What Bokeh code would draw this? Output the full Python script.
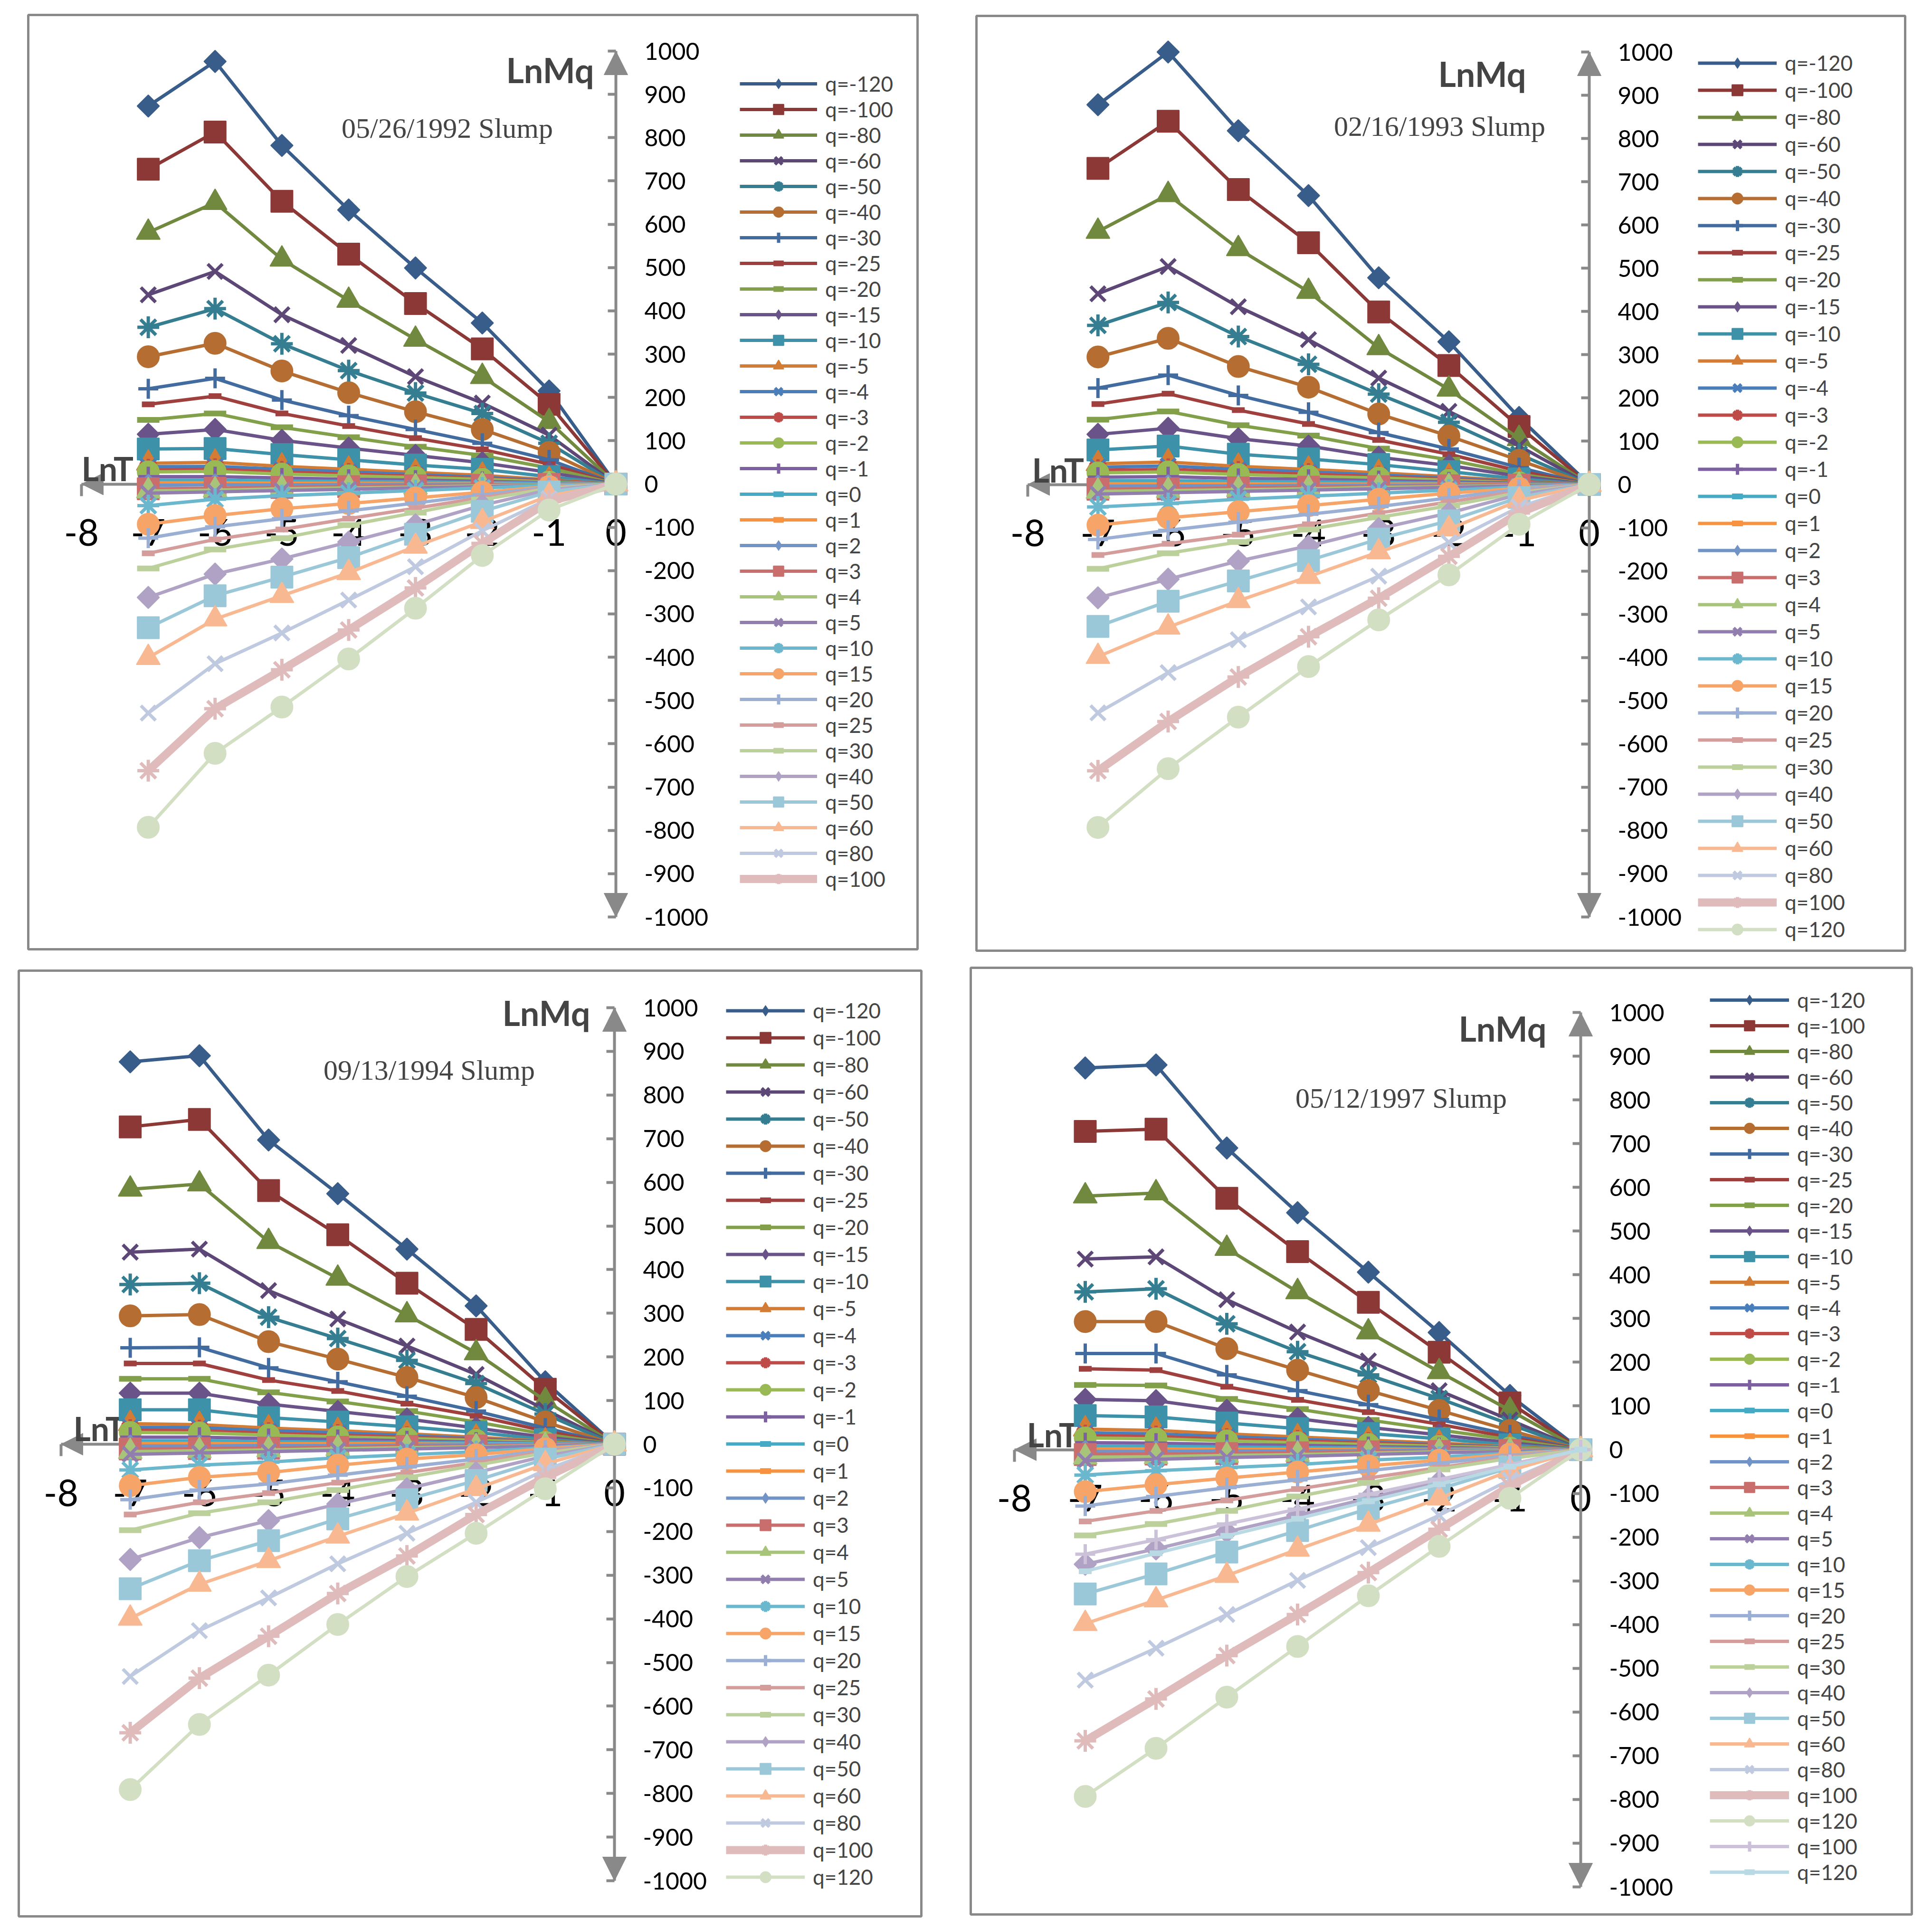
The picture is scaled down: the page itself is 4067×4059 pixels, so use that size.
import math

from bokeh.plotting import figure
from bokeh.layouts import row, column
from bokeh.models import Arrow, NormalHead, Label, Legend, LegendItem, Spacer, FixedTicker, ColumnDataSource
from bokeh.embed import file_html
from bokeh.resources import INLINE

# ---- data -------------------------------------------------------------
lnT = [-7, -6, -5, -4, -3, -2, -1, 0]
x_ticks = [-8, -7, -6, -5, -4, -3, -2, -1, 0]
y_ticks = list(range(-1000, 1001, 100))

q_values = [-120, -100, -80, -60, -50, -40, -30, -25, -20, -15, -10, -5, -4, -3, -2, -1,
            0, 1, 2, 3, 4, 5, 10, 15, 20, 25, 30, 40, 50, 60, 80, 100, 120]

# LnMq at lnT = -7 ... 0, one row per q
slump_1992 = [
    [873, 976, 782, 633, 499, 372, 215, 0],
    [727, 813, 653, 531, 417, 312, 184, 0],
    [581, 650, 519, 424, 334, 248, 144, 0],
    [437, 491, 391, 320, 248, 187, 113, 0],
    [362, 405, 324, 262, 210, 163, 94, 0],
    [294, 325, 261, 211, 167, 126, 73, 0],
    [220, 244, 194, 158, 126, 94, 56, 0],
    [184, 203, 163, 134, 106, 80, 46, 0],
    [148, 163, 131, 108, 86, 66, 37, 0],
    [115, 126, 101, 83, 66, 49, 27, 0],
    [81, 82, 68, 56, 44, 34, 17, 0],
    [48, 50, 41, 34, 27, 20, 10, 0],
    [40, 41, 34, 28, 22, 16, 8, 0],
    [33, 34, 28, 23, 18, 13, 7, 0],
    [28, 29, 23, 19, 15, 11, 5, 0],
    [17, 17, 14, 11, 9, 6, 3, 0],
    [9, 9, 7, 6, 5, 3, 2, 0],
    [3, 3, 2, 2, 1, 1, 0, 0],
    [-3, -2, -2, -1, -1, -1, 0, 0],
    [-11, -10, -8, -6, -4, -3, -1, 0],
    [-16, -14, -11, -9, -7, -4, -2, 0],
    [-21, -18, -15, -12, -9, -6, -3, 0],
    [-50, -35, -27, -21, -15, -9, -3, 0],
    [-93, -73, -57, -45, -32, -19, -6, 0],
    [-125, -99, -80, -62, -44, -25, -7, 0],
    [-160, -128, -105, -80, -56, -31, -9, 0],
    [-195, -151, -125, -95, -66, -36, -10, 0],
    [-262, -208, -173, -134, -94, -49, -13, 0],
    [-332, -258, -215, -170, -116, -63, -18, 0],
    [-401, -312, -258, -205, -144, -87, -27, 0],
    [-529, -415, -344, -268, -191, -108, -34, 0],
    [-662, -519, -429, -337, -240, -137, -40, 0],
    [-793, -622, -515, -404, -287, -165, -60, 0],
]

slump_1993 = [
    [878, 1000, 818, 668, 478, 330, 155, 0],
    [731, 840, 682, 559, 399, 275, 134, 0],
    [585, 670, 545, 446, 316, 220, 106, 0],
    [441, 504, 411, 335, 246, 169, 89, 0],
    [368, 421, 342, 278, 209, 144, 70, 0],
    [295, 338, 273, 225, 163, 112, 56, 0],
    [223, 253, 206, 167, 120, 82, 39, 0],
    [186, 210, 172, 140, 103, 70, 31, 0],
    [150, 169, 137, 113, 83, 57, 24, 0],
    [116, 130, 106, 89, 63, 44, 19, 0],
    [80, 89, 70, 59, 46, 30, 13, 0],
    [48, 52, 42, 35, 27, 18, 8, 0],
    [40, 43, 35, 29, 22, 15, 7, 0],
    [33, 35, 29, 24, 18, 12, 6, 0],
    [27, 29, 23, 19, 15, 10, 4, 0],
    [17, 18, 14, 12, 9, 6, 3, 0],
    [9, 9, 7, 6, 5, 3, 1, 0],
    [2, 2, 2, 1, 1, 1, 0, 0],
    [-4, -3, -3, -2, -2, -1, 0, 0],
    [-11, -10, -8, -6, -5, -3, -1, 0],
    [-16, -14, -12, -10, -7, -5, -2, 0],
    [-22, -19, -16, -13, -10, -7, -3, 0],
    [-52, -44, -34, -27, -20, -13, -6, 0],
    [-94, -77, -63, -49, -34, -20, -9, 0],
    [-127, -106, -87, -69, -51, -31, -11, 0],
    [-163, -137, -116, -92, -66, -40, -16, 0],
    [-195, -159, -133, -104, -76, -49, -19, 0],
    [-262, -219, -177, -142, -102, -66, -23, 0],
    [-328, -270, -223, -176, -126, -84, -30, 0],
    [-398, -330, -269, -213, -156, -103, -37, 0],
    [-528, -435, -359, -283, -212, -134, -52, 0],
    [-662, -548, -445, -352, -263, -166, -66, 0],
    [-793, -657, -538, -421, -313, -209, -92, 0],
]

slump_1994 = [
    [876, 890, 697, 574, 447, 317, 143, 0],
    [727, 744, 581, 480, 369, 263, 126, 0],
    [584, 596, 464, 380, 296, 209, 100, 0],
    [440, 447, 352, 287, 225, 160, 79, 0],
    [366, 369, 291, 242, 192, 139, 69, 0],
    [294, 297, 235, 195, 153, 107, 51, 0],
    [221, 222, 175, 143, 110, 76, 37, 0],
    [185, 185, 147, 122, 93, 65, 30, 0],
    [150, 150, 119, 98, 76, 51, 23, 0],
    [117, 117, 92, 75, 58, 37, 16, 0],
    [79, 79, 61, 51, 40, 27, 11, 0],
    [47, 45, 37, 31, 24, 16, 7, 0],
    [39, 38, 31, 26, 20, 13, 6, 0],
    [32, 31, 25, 21, 16, 11, 5, 0],
    [27, 26, 21, 17, 13, 9, 4, 0],
    [16, 16, 13, 11, 8, 5, 2, 0],
    [8, 8, 6, 5, 4, 3, 1, 0],
    [2, 2, 1, 1, 1, 0, 0, 0],
    [-4, -4, -3, -3, -2, -1, -1, 0],
    [-11, -10, -9, -7, -5, -4, -2, 0],
    [-17, -15, -13, -10, -8, -6, -3, 0],
    [-23, -20, -17, -14, -11, -8, -4, 0],
    [-59, -48, -41, -31, -24, -17, -8, 0],
    [-95, -76, -65, -48, -34, -24, -10, 0],
    [-127, -105, -91, -71, -52, -34, -14, 0],
    [-161, -133, -112, -88, -65, -42, -17, 0],
    [-197, -158, -133, -105, -76, -48, -20, 0],
    [-264, -214, -175, -137, -102, -65, -27, 0],
    [-331, -267, -221, -171, -127, -83, -34, 0],
    [-399, -321, -267, -211, -158, -102, -45, 0],
    [-532, -427, -352, -274, -204, -133, -59, 0],
    [-661, -536, -440, -342, -256, -161, -76, 0],
    [-791, -642, -529, -413, -303, -204, -102, 0],
]

slump_1997 = [
    [873, 880, 690, 542, 406, 268, 124, 0],
    [728, 733, 575, 453, 337, 223, 107, 0],
    [580, 587, 460, 361, 269, 178, 90, 0],
    [436, 441, 343, 269, 203, 135, 68, 0],
    [361, 368, 288, 224, 171, 117, 58, 0],
    [293, 293, 231, 182, 135, 90, 44, 0],
    [220, 220, 171, 135, 103, 69, 34, 0],
    [185, 182, 144, 114, 86, 58, 28, 0],
    [148, 147, 116, 93, 68, 45, 23, 0],
    [115, 112, 90, 71, 51, 34, 16, 0],
    [78, 75, 61, 48, 37, 25, 11, 0],
    [47, 44, 36, 29, 22, 15, 7, 0],
    [39, 36, 30, 24, 18, 12, 6, 0],
    [32, 30, 24, 20, 15, 10, 5, 0],
    [27, 25, 20, 16, 12, 8, 4, 0],
    [16, 15, 12, 10, 7, 5, 2, 0],
    [8, 8, 6, 5, 4, 2, 1, 0],
    [2, 2, 1, 1, 1, 0, 0, 0],
    [-4, -4, -3, -3, -2, -1, -1, 0],
    [-11, -10, -9, -7, -5, -4, -2, 0],
    [-17, -16, -13, -11, -8, -5, -3, 0],
    [-25, -22, -18, -15, -11, -7, -4, 0],
    [-58, -48, -41, -34, -24, -17, -8, 0],
    [-96, -80, -65, -51, -37, -24, -10, 0],
    [-129, -107, -87, -69, -48, -31, -13, 0],
    [-164, -140, -116, -90, -65, -41, -17, 0],
    [-196, -170, -140, -107, -76, -45, -20, 0],
    [-262, -227, -188, -150, -111, -73, -34, 0],
    [-330, -284, -234, -185, -135, -90, -41, 0],
    [-398, -344, -288, -228, -171, -111, -48, 0],
    [-527, -454, -377, -299, -224, -150, -69, 0],
    [-666, -570, -471, -377, -281, -182, -83, 0],
    [-793, -683, -566, -450, -334, -221, -111, 0],
    [-239, -206, -170, -136, -102, -68, -34, 0],   # second "q=100" entry
    [-278, -237, -197, -158, -118, -79, -39, 0],   # second "q=120" entry
]
extra_1997 = [100, 120]

# ---- styling ----------------------------------------------------------
palette = [
    "#385D8A", "#8C3836", "#71893F", "#5C4776", "#357D91", "#B66D31",
    "#426BA0", "#A0403E", "#82A04A", "#6A5388", "#3D91A8", "#D37C35",
    "#4A7EBB", "#BE4B48", "#98B954", "#7D60A0", "#46AAC5", "#F69240",
    "#7293C6", "#C96E6C", "#A8C47A", "#917EAE", "#6BB7CE", "#F7A468",
    "#9AAFD3", "#D49D9C", "#BCD09C", "#AFA2C4", "#9BC8D8", "#F8B992",
    "#BFCAE0", "#DFBCBB", "#D2DFC3", "#CBC1D9", "#B9D9E4",
]
# Excel marker cycle: diamond, square, triangle, x, star, circle, plus, short bar, long bar
# (marker, size, line width, angle); the diamond is a square turned by 45 degrees
markers = [
    ("square", 33, 2, math.pi / 4), ("square", 46, 2, 0), ("triangle", 50, 2, 0),
    ("x", 44, 7, 0), ("asterisk", 46, 7, 0), ("circle", 46, 2, 0),
    ("cross", 42, 7, 0), ("dash", 27, 12, 0), ("dash", 47, 12, 0),
]
GRAY = "#898989"

panels = [
    dict(title="05/26/1992 Slump", rows=slump_1992, legend_n=32,
         w=1872, h=1967, x8=112, x0=1237, yp=76, ym=1899,
         leg_x=1498, leg_c=145, pitch=54, gw=163,
         t_xy=(882, 238), mq_xy=(1191, 115), lt_xy=(112, 954)),
    dict(title="02/16/1993 Slump", rows=slump_1993, legend_n=33,
         w=1955, h=1968, x8=108, x0=1290, yp=76, ym=1897,
         leg_x=1519, leg_c=99, pitch=57, gw=166,
         t_xy=(975, 232), mq_xy=(1157, 121), lt_xy=(117, 955)),
    dict(title="09/13/1994 Slump", rows=slump_1994, legend_n=33,
         w=1900, h=1991, x8=89, x0=1254, yp=78, ym=1916,
         leg_x=1489, leg_c=84, pitch=57, gw=166,
         t_xy=(864, 209), mq_xy=(1203, 88), lt_xy=(115, 963)),
    dict(title="05/12/1997 Slump", rows=slump_1997, legend_n=35,
         w=1981, h=1993, x8=92, x0=1284, yp=94, ym=1935,
         leg_x=1556, leg_c=68, pitch=54, gw=167,
         t_xy=(906, 274), mq_xy=(1212, 127), lt_xy=(118, 982)),
]


def make_panel(cfg):
    W, H = cfg["w"], cfg["h"]
    ux = 8 / (cfg["x0"] - cfg["x8"])
    uy = 2000 / (cfg["ym"] - cfg["yp"])
    p = figure(width=W + 10, height=H + 10, min_border=5,
               x_range=(-8 - cfg["x8"] * ux, (W - cfg["x0"]) * ux),
               y_range=(-1000 - (H - cfg["ym"]) * uy, 1000 + cfg["yp"] * uy),
               y_axis_location="right", output_backend="svg", toolbar_location=None)
    p.grid.visible = False
    p.outline_line_color = GRAY
    p.outline_line_width = 5
    p.background_fill_color = "white"
    p.border_fill_color = "white"

    xa = p.xaxis[0]
    xa.fixed_location = 0
    xa.bounds = (-8, 0)
    xa.ticker = FixedTicker(ticks=x_ticks)
    xa.major_label_overrides = {t: str(t) for t in x_ticks}
    xa.axis_line_color = GRAY
    xa.axis_line_width = 6
    xa.major_tick_line_color = GRAY
    xa.major_tick_line_width = 6
    xa.major_tick_out = 25
    xa.major_tick_in = 0
    xa.minor_tick_line_color = None
    xa.major_label_text_font = "Lato"
    xa.major_label_text_font_size = "77px"
    xa.major_label_text_color = "black"
    xa.major_label_standoff = 49
    xa.level = "underlay"

    ya = p.yaxis[0]
    ya.fixed_location = 0
    ya.bounds = (-1000, 1000)
    ya.ticker = FixedTicker(ticks=y_ticks)
    ya.major_label_overrides = {t: str(t) for t in y_ticks}
    ya.axis_line_color = GRAY
    ya.axis_line_width = 6
    ya.major_tick_line_color = GRAY
    ya.major_tick_line_width = 6
    ya.major_tick_in = 17
    ya.major_tick_out = 0
    ya.minor_tick_line_color = None
    ya.major_label_text_font = "Lato"
    ya.major_label_text_font_size = "50px"
    ya.major_label_text_color = "black"
    ya.major_label_standoff = 60
    ya.level = "underlay"

    for xe, ye, size in [(0, 1000, 50), (0, -1000, 50), (-8, 0, 46)]:
        head = NormalHead(size=size, fill_color=GRAY, line_color=GRAY, line_width=1)
        p.add_layout(Arrow(end=head, x_start=0, y_start=0, x_end=xe, y_end=ye,
                           line_alpha=0, level="underlay"))

    labels = ["q=%d" % q for q in q_values]
    if len(cfg["rows"]) > len(q_values):
        labels += ["q=%d" % q for q in extra_1997]

    items = []
    for i, (lab, vals) in enumerate(zip(labels, cfg["rows"])):
        color = palette[i]
        mk, size, mlw, ang = markers[i % 9]
        lw = 17 if i == len(q_values) - 2 else 7
        src = ColumnDataSource(dict(x=lnT, y=vals))
        lr = p.line("x", "y", source=src, line_color=color, line_width=lw)
        sr = p.scatter("x", "y", source=src, marker=mk, size=size, angle=ang,
                       fill_color=color, line_color=color, line_width=mlw)
        rends = [lr, sr]
        if ang:
            # the legend ignores the turn, so it gets a diamond of its own
            dr = p.scatter("x", "y", source=src, marker="diamond", size=40,
                           fill_color=color, line_color=color, visible=False)
            rends = [lr, dr]
        if i < cfg["legend_n"]:
            items.append(LegendItem(label=lab, renderers=rends))

    gh = cfg["pitch"]
    n = len(items)
    total = n * gh
    top = cfg["leg_c"] - gh / 2
    legend = Legend(items=items, location=(cfg["leg_x"], H - top - total),
                    glyph_width=cfg["gw"], glyph_height=gh, spacing=0,
                    padding=0, margin=0, label_standoff=17, label_height=30,
                    label_text_font="Lato", label_text_font_size="44px",
                    border_line_alpha=0, background_fill_alpha=0)
    p.add_layout(legend)

    tx, ty = cfg["t_xy"]
    p.add_layout(Label(x=tx, y=H - ty, x_units="screen", y_units="screen", text=cfg["title"],
                       text_font="Liberation Serif", text_font_size="60px",
                       text_align="center", text_baseline="middle"))
    mx, my = cfg["mq_xy"]
    p.add_layout(Label(x=mx, y=H - my, x_units="screen", y_units="screen", text="LnMq",
                       text_font="Lato", text_font_style="bold", text_font_size="72px",
                       text_align="right", text_baseline="middle"))
    lx, ly = cfg["lt_xy"]
    p.add_layout(Label(x=lx, y=H - ly, x_units="screen", y_units="screen", text="LnT",
                       text_font="Lato", text_font_style="bold", text_font_size="70px",
                       text_align="left", text_baseline="middle", level="underlay"))
    return p


p1, p2, p3, p4 = [make_panel(c) for c in panels]

layout = column(
    row(Spacer(width=54, height=1), column(Spacer(width=1, height=26), p1),
        Spacer(width=114, height=1), column(Spacer(width=1, height=28), p2)),
    row(Spacer(width=34, height=1), column(Spacer(width=1, height=32), p3),
        Spacer(width=94, height=1), column(Spacer(width=1, height=26), p4)),
)

open("out.html", "w").write(file_html(layout, INLINE))
